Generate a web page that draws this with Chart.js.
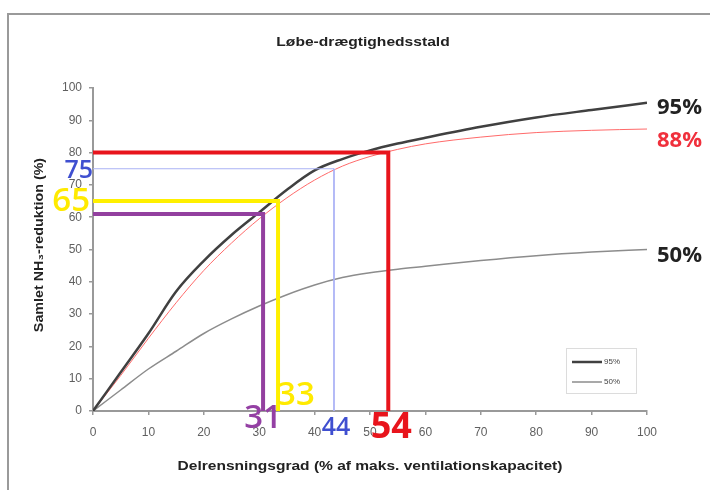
<!DOCTYPE html>
<html lang="da">
<head>
<meta charset="UTF-8">
<title>Løbe-drægtighedsstald</title>
<style>
    body { margin: 0; background: #fff; }
    #wrap { width: 710px; height: 490px; }
</style>
</head>
<body>
<div id="wrap"><canvas id="chart" width="710" height="490"></canvas></div>
<script src="https://cdn.jsdelivr.net/npm/chart.js"></script>
<script>
// data
const xPoints  = [0, 5, 10, 15, 20, 25, 30, 35, 40, 45, 50, 55, 60, 70, 80, 90, 100];
const series95 = [0, 12, 24, 37, 46.5, 54.5, 61.5, 68.5, 74.5, 78, 80.7, 82.8, 84.6, 88, 90.9, 93.2, 95.4];
const series88 = [0, 11, 22.5, 33.5, 43.5, 52, 59.5, 66, 71.5, 75.8, 78.8, 81, 82.7, 84.8, 86.2, 86.9, 87.3];
const series50 = [0, 6.5, 13, 18.5, 24, 28.5, 32.5, 36, 39, 41.3, 42.8, 43.9, 44.8, 46.6, 48.1, 49.2, 50];

// guide lines (x where the level is reached, y level)
const guideNames = ['purple', 'yellow', 'blue', 'red'];
const guideX = [30.7, 33.4, 43.5, 53.3];
const guideY = [61, 65, 75, 80];
const guideXLabels = ['31', '33', '44', '54'];
const guideYLabels = ['', '65', '75', ''];

const endLabels = ['95%', '88%', '50%'];
const legendLabels = ['95%', '50%'];

const colors = {
    purple: '#93409f',
    yellow: '#fff000',
    blue: '#aab2f5',
    red: '#e8141c'
};

function toXY(ys) {
    return xPoints.map((x, i) => ({ x: x, y: ys[i] }));
}

const guideSets = guideNames.map((name, i) => ({
    label: 'guide-' + name,
    data: [{ x: 0, y: guideY[i] }, { x: guideX[i], y: guideY[i] }, { x: guideX[i], y: 0 }],
    borderColor: colors[name],
    borderWidth: name === 'blue' ? 1 : 4,
    borderJoinStyle: 'miter',
    tension: 0,
    pointRadius: 0,
    clip: false
}));

// frame, titles, callouts, legend
const decor = {
    id: 'decor',
    beforeDraw(chart) {
        const c = chart.ctx;
        c.save();
        c.fillStyle = '#fff';
        c.fillRect(0, 0, chart.width, chart.height);
        c.strokeStyle = '#9a9a9a';
        c.lineWidth = 2;
        c.beginPath();
        c.moveTo(8, 490);
        c.lineTo(8, 14);
        c.lineTo(710, 14);
        c.stroke();
        c.restore();
    },
    afterDraw(chart) {
        const c = chart.ctx;
        const xs = chart.scales.x, ys = chart.scales.y;

        function text(str, x, y, font, color, align, sx) {
            c.save();
            c.font = font;
            c.fillStyle = color;
            c.textBaseline = 'middle';
            c.translate(x, y);
            c.scale(sx || 1, 1);
            c.textAlign = align || 'center';
            c.fillText(str, 0, 0);
            c.restore();
        }

        text('Løbe-drægtighedsstald', 363, 42, 'bold 13px Arial', '#222', 'center', 1.2);
        text('Delrensningsgrad (% af maks. ventilationskapacitet)', 370, 466, 'bold 13.5px Arial', '#222', 'center', 1.15);

        c.save();
        c.translate(39, 245);
        c.rotate(-Math.PI / 2);
        c.font = 'bold 13px Arial';
        c.fillStyle = '#222';
        c.textAlign = 'center';
        c.textBaseline = 'middle';
        c.scale(1.1, 1);
        c.fillText('Samlet NH\u2083-reduktion (%)', 0, 0);
        c.restore();

        // callout numbers
        const big = '600 33px "Open Sans"';
        const mid = '600 25px "Open Sans"';
        text(guideXLabels[0], xs.getPixelForValue(guideX[0]), 419, big, '#9440a4');
        text(guideXLabels[1], xs.getPixelForValue(guideX[1]) - 1, 396, big, '#ffea00', 'left');
        text(guideXLabels[2], xs.getPixelForValue(guideX[2]) + 2, 428, mid, '#3f4fd0');
        text(guideXLabels[3], xs.getPixelForValue(guideX[3]) + 3, 428, 'bold 36px "Open Sans"', '#e8141c');
        text(guideYLabels[1], 90, ys.getPixelForValue(guideY[1]) + 1, big, '#ffea00', 'right');
        text(guideYLabels[2], 93, ys.getPixelForValue(guideY[2]) + 2, mid, '#3f4fd0', 'right');

        const ex = xs.right + 10;
        text(endLabels[0], ex, 108, 'bold 22px "Open Sans"', '#222', 'left');
        text(endLabels[1], ex, 141, 'bold 22px "Open Sans"', '#f0303c', 'left');
        text(endLabels[2], ex, 256, 'bold 22px "Open Sans"', '#222', 'left');

        // legend box
        c.save();
        c.strokeStyle = '#dcdcdc';
        c.lineWidth = 1;
        c.strokeRect(566.5, 348.5, 70, 45);
        const legendSets = [chart.data.datasets[4], chart.data.datasets[6]];
        legendSets.forEach((ds, i) => {
            const y = 362 + i * 20;
            c.strokeStyle = ds.borderColor;
            c.lineWidth = ds.borderWidth;
            c.beginPath();
            c.moveTo(572, y);
            c.lineTo(602, y);
            c.stroke();
            c.font = '8px Arial';
            c.fillStyle = '#444';
            c.textBaseline = 'middle';
            c.fillText(legendLabels[i], 604, y);
        });
        c.restore();
    }
};

new Chart(document.getElementById('chart'), {
    type: 'line',
    data: {
        datasets: guideSets.concat([
            { label: '95%', data: toXY(series95), borderColor: '#404040', borderWidth: 2.5, pointRadius: 0, cubicInterpolationMode: 'monotone' },
            { label: '88%', data: toXY(series88), borderColor: '#ff6a6a', borderWidth: 1, pointRadius: 0, cubicInterpolationMode: 'monotone' },
            { label: '50%', data: toXY(series50), borderColor: '#8c8c8c', borderWidth: 1.5, pointRadius: 0, cubicInterpolationMode: 'monotone' }
        ])
    },
    options: {
        responsive: false,
        animation: false,
        devicePixelRatio: 1,
        layout: { padding: { left: 0, right: 63, top: 88, bottom: 0 } },
        plugins: { legend: { display: false }, tooltip: { enabled: false } },
        scales: {
            x: {
                type: 'linear',
                min: 0,
                max: 100,
                afterFit(scale) { scale.height = 79; },
                ticks: { stepSize: 10, padding: 10, color: '#606060', font: { family: 'Arial', size: 12 } },
                grid: { drawOnChartArea: false, tickLength: 4, color: '#999', lineWidth: 1.5 },
                border: { color: '#999', width: 2 }
            },
            y: {
                min: 0,
                max: 100,
                afterFit(scale) { scale.width = 93; },
                ticks: { stepSize: 10, padding: 7, color: '#606060', font: { family: 'Arial', size: 12 } },
                grid: { drawOnChartArea: false, tickLength: 4, color: '#999', lineWidth: 1.5 },
                border: { color: '#999', width: 2 }
            }
        }
    },
    plugins: [decor]
});
</script>
</body>
</html>
